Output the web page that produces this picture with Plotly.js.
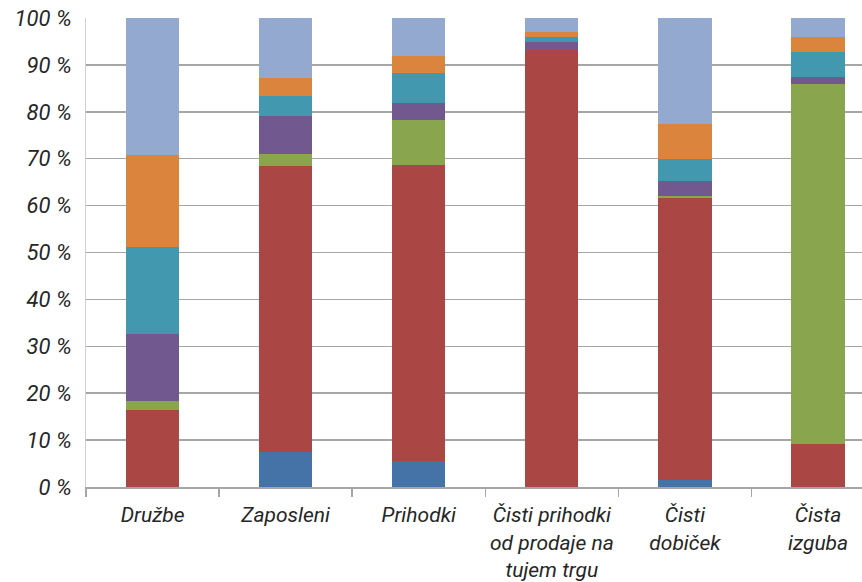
<!DOCTYPE html>
<html>
<head>
<meta charset="utf-8">
<script src="https://cdn.plot.ly/plotly-3.0.1.min.js"></script>
<style>html,body{margin:0;padding:0;background:#fff;}#chart{width:862px;height:582px;}</style>
</head>
<body>
<div id="chart"></div>
<script>
const categories = ["Družbe", "Zaposleni", "Prihodki", "Čisti prihodki<br>od prodaje na<br>tujem trgu", "Čisti<br>dobiček", "Čista<br>izguba"];
const seriesNames = ["Skupina 1", "Skupina 2", "Skupina 3", "Skupina 4", "Skupina 5", "Skupina 6", "Skupina 7"];
const s1 = [0, 7.5, 5.5, 0, 1.5, 0];
const s2 = [16.4, 60.9, 63.2, 93.2, 60.2, 9.2];
const s3 = [1.9, 2.5, 9.6, 0, 0.4, 76.7];
const s4 = [14.3, 8.1, 3.6, 1.6, 3.2, 1.5];
const s5 = [18.6, 4.4, 6.4, 1.1, 4.6, 5.3];
const s6 = [19.6, 3.9, 3.5, 1.1, 7.5, 3.2];
const s7 = [29.2, 12.7, 8.2, 3.0, 22.6, 4.1];
const yTicks = [0, 10, 20, 30, 40, 50, 60, 70, 80, 90, 100];
const yTickText = ["0 %", "10 %", "20 %", "30 %", "40 %", "50 %", "60 %", "70 %", "80 %", "90 %", "100 %"];

const colors = ["#4572A7", "#AA4643", "#89A54E", "#71588F", "#4198AF", "#DB843D", "#93A9CF"];
const allSeries = [s1, s2, s3, s4, s5, s6, s7];

const data = allSeries.map((vals, i) => ({
  type: "bar",
  x: categories,
  y: vals,
  name: seriesNames[i],
  marker: {color: colors[i], line: {width: 0}},
  hoverinfo: "none"
}));

const fontFamily = "Roboto, 'Open Sans', sans-serif";
const layout = {
  width: 862,
  height: 582,
  barmode: "stack",
  bargap: 0.6,
  showlegend: false,
  paper_bgcolor: "#ffffff",
  plot_bgcolor: "#ffffff",
  margin: {l: 86, r: 0, t: 18, b: 95},
  font: {family: fontFamily, color: "#262626", size: 21},
  xaxis: {
    type: "category",
    range: [-0.5, 5.33],
    tickson: "boundaries",
    tickangle: 0,
    ticks: "outside",
    ticklen: 8,
    tickwidth: 1.5,
    tickcolor: "#a6a6a6",
    showline: true,
    linecolor: "#a6a6a6",
    linewidth: 2,
    showgrid: false,
    ticklabelstandoff: 8,
    tickfont: {family: fontFamily, size: 21, color: "#262626", style: "italic"}
  },
  yaxis: {
    range: [0, 100],
    tickvals: yTicks,
    ticktext: yTickText,
    showgrid: true,
    gridcolor: "#a6a6a6",
    gridwidth: 1.5,
    showline: true,
    linecolor: "#d0d0d0",
    linewidth: 1,
    zeroline: false,
    ticks: "",
    ticklabelstandoff: 9,
    tickfont: {family: fontFamily, size: 22, color: "#262626", style: "italic"}
  }
};

Plotly.newPlot("chart", data, layout, {staticPlot: true, displayModeBar: false});
</script>
</body>
</html>
